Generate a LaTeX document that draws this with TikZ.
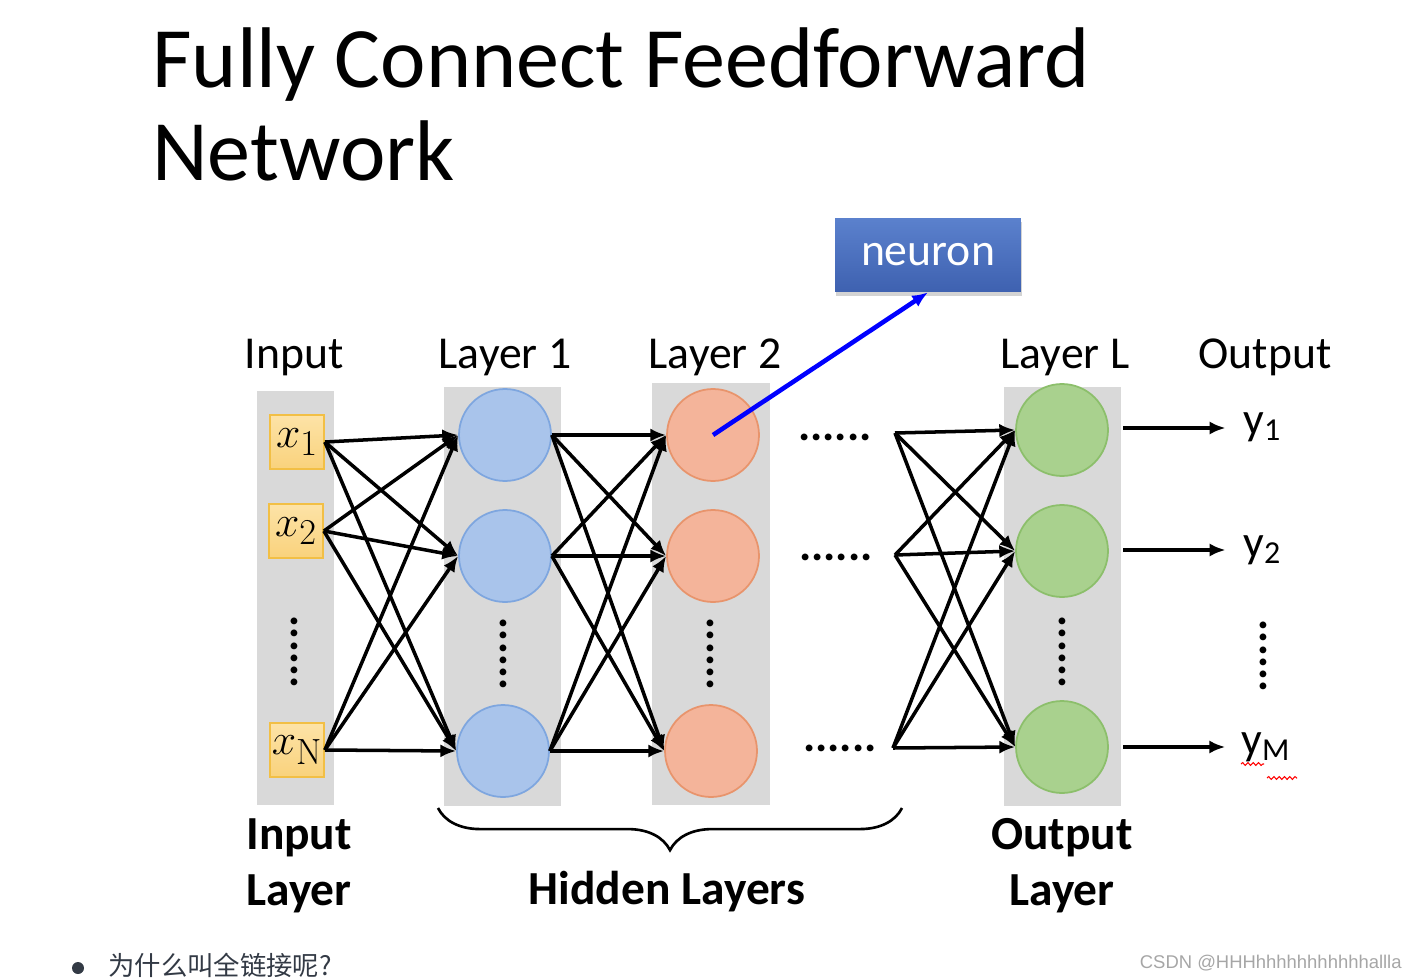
\documentclass[tikz,border=0pt]{standalone}
\usepackage{amsmath, amssymb}
\usepackage{xcolor}
\usepackage[no-math]{fontspec}
\setmainfont{Carlito}
\newfontfamily\cjkfont{Noto Sans CJK SC}
\newfontfamily\markfont{Liberation Sans}
\usepackage{tikz}
\usetikzlibrary{arrows.meta, shadows, decorations.pathreplacing, decorations.pathmorphing}

\definecolor{bggray}{HTML}{D9D9D9}
\definecolor{intop}{HTML}{FDE3A7}
\definecolor{inbot}{HTML}{F9D27C}
\definecolor{inedge}{HTML}{F2BF45}
\definecolor{bluefill}{HTML}{A9C4EB}
\definecolor{blueedge}{HTML}{7EA6DF}
\definecolor{orangefill}{HTML}{F4B49A}
\definecolor{orangeedge}{HTML}{E8946C}
\definecolor{greenfill}{HTML}{A9D18E}
\definecolor{greenedge}{HTML}{8CBF6B}
\definecolor{neurontop}{HTML}{5B81CD}
\definecolor{neuronbot}{HTML}{3E61B0}
\definecolor{notegray}{HTML}{333A45}

\newcommand{\labelfont}{\fontsize{26}{31}\selectfont}
\newcommand{\boldfont}{\fontsize{27}{32}\selectfont\bfseries}

\begin{document}
\begin{tikzpicture}[x=0.02cm, y=-0.02cm, >={Latex[length=9pt,width=7.5pt]},
  inputbox/.style={rectangle, draw=inedge, line width=1pt, top color=intop, bottom color=inbot,
    minimum size=1.08cm, inner sep=0pt, font=\fontsize{28}{30}\selectfont},
  cell/.style={circle, minimum size=1.84cm, inner sep=0pt, line width=1pt},
  bluecell/.style={cell, draw=blueedge, fill=bluefill},
  orangecell/.style={cell, draw=orangeedge, fill=orangefill},
  greencell/.style={cell, draw=greenedge, fill=greenfill},
  link/.style={->, line width=2pt},
  layerlabel/.style={font=\labelfont, inner sep=0pt, anchor=base},
  dots/.style={font=\labelfont\bfseries, inner sep=0pt},
  outlabel/.style={font=\labelfont, inner sep=0pt, anchor=base west}]
  \useasboundingbox (0,0) rectangle (1416,980);

  \node[anchor=base west, inner sep=0pt, font=\fontsize{49}{52}\selectfont] (title1) at (152,88) {Fully Connect Feedforward};
  \node[anchor=base west, inner sep=0pt, font=\fontsize{49}{52}\selectfont] (title2) at (152,180) {Network};

  \fill[bggray] (257,391) rectangle (334,805);
  \fill[bggray] (444,387) rectangle (561,806);
  \fill[bggray] (652,383) rectangle (770,805);
  \fill[bggray] (1004,387) rectangle (1121,806);

  \node[layerlabel] (inlab) at (294,368) {Input};
  \node[layerlabel] (lab1) at (505,368) {Layer 1};
  \node[layerlabel] (lab2) at (715,368) {Layer 2};
  \node[layerlabel] (labL) at (1065,368) {Layer L};
  \node[layerlabel] (outlab) at (1265,368) {Output};

  \node[inputbox] (x1) at (297,442) {$x_1$};
  \node[inputbox] (x2) at (296,531) {$x_2$};
  \node[inputbox] (xN) at (297,750) {$x_{\mathrm{N}}$};
  \node[dots, rotate=90] (xdots) at (294,652) {......};

  \node[bluecell] (a1) at (505,435) {};
  \node[bluecell] (a2) at (505,556) {};
  \node[bluecell] (a3) at (503,751) {};
  \node[dots, rotate=90] (adots) at (503,654) {......};

  \node[orangecell] (b1) at (713,435) {};
  \node[orangecell] (b2) at (713,556) {};
  \node[orangecell] (b3) at (711,751) {};
  \node[dots, rotate=90] (bdots) at (710,654) {......};

  \node[greencell] (c1) at (1062,430) {};
  \node[greencell] (c2) at (1062,551) {};
  \node[greencell] (c3) at (1062,747) {};
  \node[dots, rotate=90] (cdots) at (1062,652) {......};

  \node[dots] (hdots1) at (835,437) {......};
  \node[dots] (hdots2) at (836,557) {......};
  \node[dots] (hdots3) at (840,748) {......};

  \coordinate (m1) at (895,433);
  \coordinate (m2) at (895,555);
  \coordinate (m3) at (893,748);

  \draw[link] (x1.east) -- (a1.west);
  \draw[link] (x1.east) -- (a2.west);
  \draw[link] (x1.east) -- (a3.west);
  \draw[link] (x2.east) -- (a1.west);
  \draw[link] (x2.east) -- (a2.west);
  \draw[link] (x2.east) -- (a3.west);
  \draw[link] (xN.east) -- (a1.west);
  \draw[link] (xN.east) -- (a2.west);
  \draw[link] (xN.east) -- (a3.west);

  \draw[link] (a1.east) -- (b1.west);
  \draw[link] (a1.east) -- (b2.west);
  \draw[link] (a1.east) -- (b3.west);
  \draw[link] (a2.east) -- (b1.west);
  \draw[link] (a2.east) -- (b2.west);
  \draw[link] (a2.east) -- (b3.west);
  \draw[link] (a3.east) -- (b1.west);
  \draw[link] (a3.east) -- (b2.west);
  \draw[link] (a3.east) -- (b3.west);

  \draw[link] (m1) -- (c1.west);
  \draw[link] (m1) -- (c2.west);
  \draw[link] (m1) -- (c3.west);
  \draw[link] (m2) -- (c1.west);
  \draw[link] (m2) -- (c2.west);
  \draw[link] (m2) -- (c3.west);
  \draw[link] (m3) -- (c1.west);
  \draw[link] (m3) -- (c2.west);
  \draw[link] (m3) -- (c3.west);

  \node[outlabel] (y1) at (1243,434) {y\textsubscript{1}};
  \node[outlabel] (y2) at (1243,557) {y\textsubscript{2}};
  \node[outlabel] (yM) at (1241,754) {y\textsubscript{M}};
  \node[dots, rotate=90] (ydots) at (1263,656) {......};
  \coordinate (o1) at (1123,428);
  \coordinate (o2) at (1123,550);
  \coordinate (o3) at (1123,747);
  \draw[link] (o1) -- ([xshift=-10pt]o1 -| y1.west);
  \draw[link] (o2) -- ([xshift=-10pt]o2 -| y2.west);
  \draw[link] (o3) -- ([xshift=-9pt]o3 -| yM.west);
  \draw[red, line width=0.6pt, decorate, decoration={snake, amplitude=0.8pt, segment length=3pt}] (1241,764) -- (1264,764);
  \draw[red, line width=0.6pt, decorate, decoration={snake, amplitude=0.8pt, segment length=3pt}] (1267,778) -- (1297,778);

  \node[rectangle, minimum width=3.72cm, minimum height=1.48cm, top color=neurontop, bottom color=neuronbot,
    drop shadow={opacity=0.35, shadow xshift=0.5pt, shadow yshift=-2pt}, text=white, font=\labelfont] (neuron) at (928,255) {neuron};
  \draw[->, blue, line width=2.6pt] (b1.center) -- (neuron.south);

  \draw[line width=1.5pt, decorate, decoration={brace, mirror, amplitude=24pt}] (438,808) -- (902,808);

  \node[font=\boldfont, align=left, anchor=north west, inner sep=0pt] (inlayer) at (246,818) {Input\\Layer};
  \node[font=\boldfont, anchor=base, inner sep=0pt] (hidden) at (667,904) {Hidden Layers};
  \node[font=\boldfont, align=center, anchor=north, inner sep=0pt] (outlayer) at (1062,818) {Output\\Layer};

  \fill[notegray] (78,968) circle (6);
  \node[font=\cjkfont\fontsize{15}{18}\selectfont, text=notegray, anchor=south west, inner sep=0pt] (note) at (108,978) {为什么叫全链接呢?};
  \node[font=\markfont\fontsize{10.5}{12}\selectfont, text=gray!70, anchor=east, inner sep=0pt] (mark) at (1402,963) {CSDN @HHHhhhhhhhhhhhallla};
\end{tikzpicture}
\end{document}
